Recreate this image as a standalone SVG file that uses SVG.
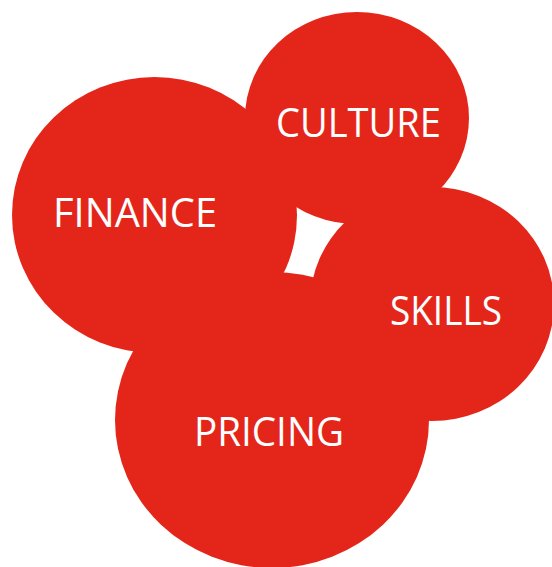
<svg xmlns="http://www.w3.org/2000/svg" width="552" height="567" viewBox="0 0 552 567">
  <style>
    .blob { fill: #e4261a; }
    .label { fill: #ffffff; font-family: "Open Sans", "Noto Sans", "Liberation Sans", sans-serif; font-size: 40px; font-weight: 400; }
  </style>
  <rect width="552" height="567" fill="#ffffff"/>
  <!-- four overlapping red lobes; the small white gap in the middle is where none of them reach -->
  <g id="finance">
    <ellipse class="blob" cx="154.5" cy="215" rx="142.5" ry="138"/>
  </g>
  <g id="culture">
    <ellipse class="blob" cx="357" cy="118" rx="112" ry="106"/>
  </g>
  <g id="skills">
    <ellipse class="blob" cx="432" cy="304" rx="122" ry="117"/>
  </g>
  <g id="pricing">
    <ellipse class="blob" cx="272" cy="420" rx="157" ry="148"/>
  </g>
  <g id="labels">
    <text class="label" x="53" y="227" textLength="164" lengthAdjust="spacingAndGlyphs">FINANCE</text>
    <text class="label" x="276" y="137" textLength="165" lengthAdjust="spacingAndGlyphs">CULTURE</text>
    <text class="label" x="390" y="325" textLength="112" lengthAdjust="spacingAndGlyphs">SKILLS</text>
    <text class="label" x="194" y="446" textLength="150" lengthAdjust="spacingAndGlyphs">PRICING</text>
  </g>
</svg>
